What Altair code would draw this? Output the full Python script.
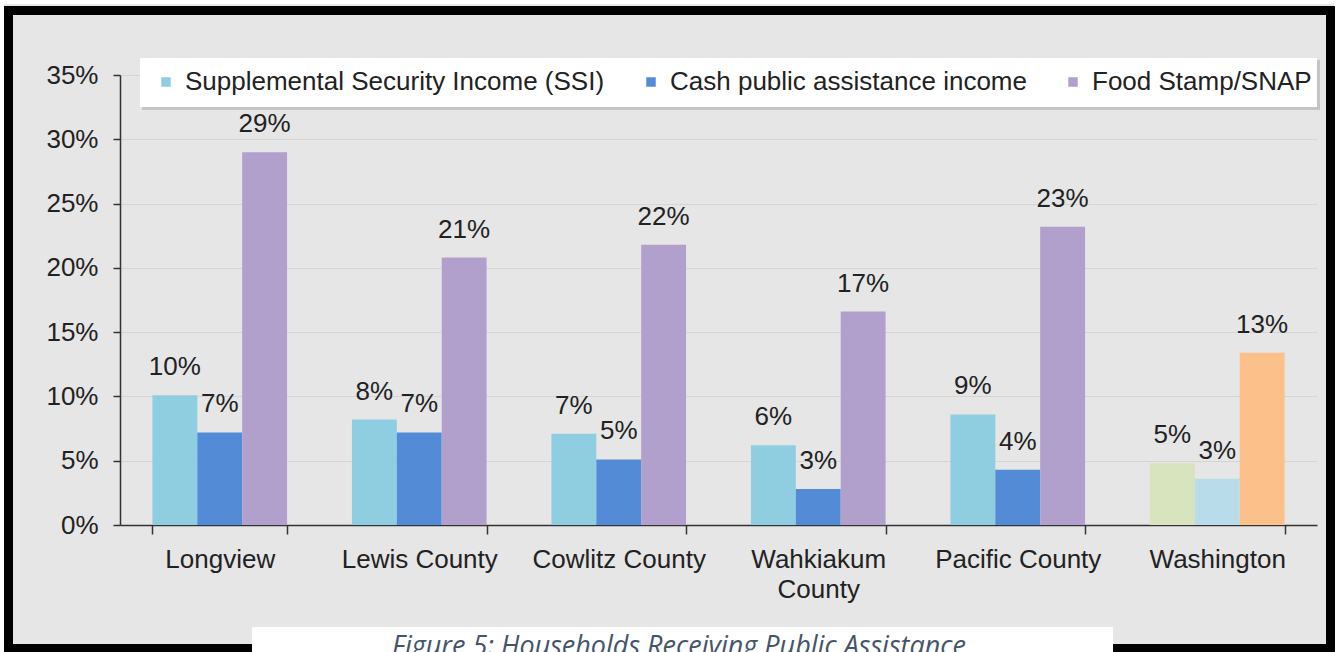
import altair as alt
import pandas as pd

categories = ["Longview", "Lewis County", "Cowlitz County", "Wahkiakum County", "Pacific County", "Washington"]
series = ["Supplemental Security Income (SSI)", "Cash public assistance income", "Food Stamp/SNAP"]
ssi_values = [10.1, 8.2, 7.1, 6.2, 8.6, 4.8]
cash_values = [7.2, 7.2, 5.1, 2.8, 4.3, 3.6]
snap_values = [29.0, 20.8, 21.8, 16.6, 23.2, 13.4]
ssi_labels = ["10%", "8%", "7%", "6%", "9%", "5%"]
cash_labels = ["7%", "7%", "5%", "3%", "4%", "3%"]
snap_labels = ["29%", "21%", "22%", "17%", "23%", "13%"]
wa_keys = ["Washington SSI", "Washington Cash", "Washington SNAP"]
color_domain = series + wa_keys
color_range = ["#8fcde0", "#538bd6", "#b1a0cb", "#d7e4bd", "#b9dceb", "#fcc08a"]
y_ticks = [0, 5, 10, 15, 20, 25, 30, 35]
caption = "Figure 5:  Households Receiving Public Assistance"

rows = []
for i, c in enumerate(categories):
    for j, (vals, labs) in enumerate([(ssi_values, ssi_labels), (cash_values, cash_labels), (snap_values, snap_labels)]):
        key = wa_keys[j] if c == "Washington" else series[j]
        rows.append({"category": c, "series": series[j], "value": vals[i], "label": labs[i], "ckey": key})
df = pd.DataFrame(rows)

FONT = "Liberation Sans"
W, H = 1197, 450

x_enc = alt.X("category:N", sort=categories, title=None,
              scale=alt.Scale(paddingInner=0.325, paddingOuter=0.1625),
              axis=alt.Axis(labelAngle=0, tickBand="extent", tickSize=9, labelPadding=12,
                            labelFontSize=26, labelFont=FONT, labelColor="#222222",
                            labelLimit=400, labelLineHeight=30,
                            labelExpr="datum.label == 'Wahkiakum County' ? ['Wahkiakum', 'County'] : datum.label",
                            domainColor="#333333", domainWidth=1.5, tickColor="#333333", tickWidth=1.5,
                            grid=False))
xo_enc = alt.XOffset("series:N", sort=series, scale=alt.Scale(paddingInner=0, paddingOuter=0))
y_enc = alt.Y("value:Q", title=None, scale=alt.Scale(domain=[0, 35], nice=False),
              axis=alt.Axis(values=y_ticks, labelExpr="datum.value + '%'", tickSize=7, labelPadding=15,
                            labelFontSize=26, labelFont=FONT, labelColor="#222222",
                            domainColor="#333333", domainWidth=1.5, tickColor="#333333", tickWidth=1.5,
                            grid=True, gridColor="#d5d5d5", gridWidth=1))

one = pd.DataFrame({"k": [0]})

outer_white = alt.Chart(one).mark_rect(fillOpacity=0, stroke="white", strokeWidth=8).encode(
    x=alt.value(-120), x2=alt.value(1218), y=alt.value(-75), y2=alt.value(577))
frame = alt.Chart(one).mark_rect(fillOpacity=0, stroke="black", strokeWidth=9).encode(
    x=alt.value(-111.5), x2=alt.value(1210.5), y=alt.value(-64.5), y2=alt.value(573.5))
legend_shadow = alt.Chart(one).mark_rect(fill="#c4c4c4").encode(
    x=alt.value(22), x2=alt.value(1200), y=alt.value(-15), y2=alt.value(35))
legend_box = alt.Chart(one).mark_rect(fill="white").encode(
    x=alt.value(20), x2=alt.value(1197), y=alt.value(-17), y2=alt.value(32))

bars = alt.Chart(df).mark_bar().encode(
    x=x_enc, xOffset=xo_enc, y=y_enc,
    color=alt.Color("ckey:N", scale=alt.Scale(domain=color_domain, range=color_range),
                    legend=alt.Legend(values=series, title=None, orient="none", direction="horizontal",
                                      legendX=33, legendY=-6, symbolType="square", symbolSize=90,
                                      symbolStrokeWidth=0, labelFontSize=26, labelFont=FONT,
                                      labelColor="#222222", labelLimit=1000, labelOffset=6,
                                      columnPadding=33, padding=0)))

labels = alt.Chart(df).mark_text(baseline="alphabetic", dy=-20, fontSize=26, font=FONT, color="#222222").encode(
    x=alt.X("category:N", sort=categories), xOffset=alt.XOffset("series:N", sort=series),
    y="value:Q", text="label:N")

cap_box = alt.Chart(one).mark_rect(fill="white").encode(
    x=alt.value(132), x2=alt.value(993), y=alt.value(552), y2=alt.value(580))
cap_text = alt.Chart(pd.DataFrame({"t": [caption]})).mark_text(
    align="left", baseline="alphabetic", fontSize=27, font="Open Sans", fontStyle="italic",
    color="#44546a").encode(x=alt.value(272), y=alt.value(580), text="t:N")

chart = alt.layer(outer_white, frame, legend_shadow, legend_box, bars, labels, cap_box, cap_text).properties(
    width=W, height=H, background="#e6e6e6",
    padding={"left": 120, "top": 75, "right": 21, "bottom": 127},
    autosize=alt.AutoSizeParams(type="none")
).configure_view(stroke=None, fill=None)

chart.save("out.html", embed_options={"renderer": "svg", "actions": False})
